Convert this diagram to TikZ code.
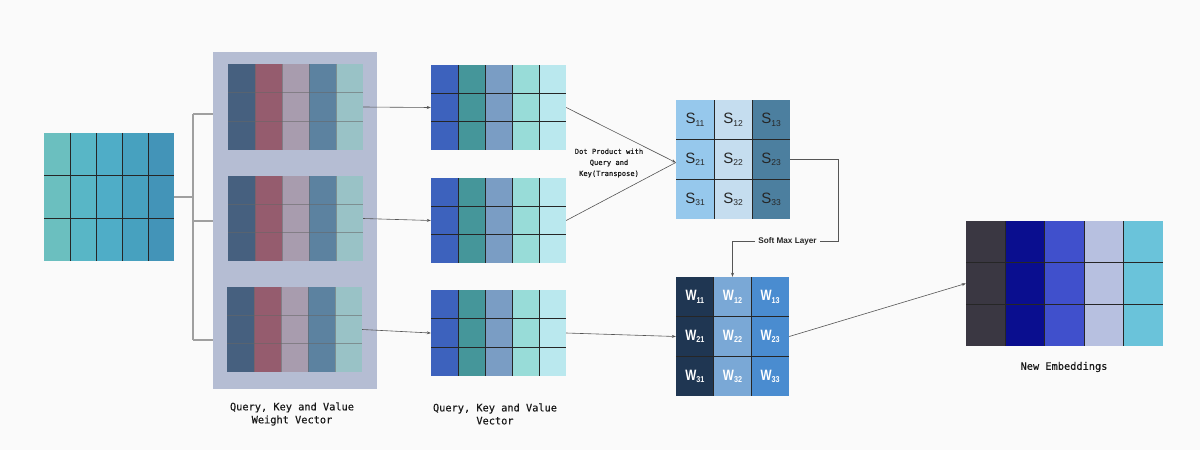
\documentclass[tikz,border=0pt]{standalone}
\usepackage{fontspec}
\usepackage{graphicx}
\setmainfont{Liberation Sans}
\newfontfamily\monof[FakeBold=0.35]{DejaVu Sans Mono}
\newfontfamily\sansf{Liberation Sans}
\usetikzlibrary{arrows.meta}
\definecolor{bg}{HTML}{FAFAFA}
\definecolor{inA}{HTML}{6BBFBF}\definecolor{inB}{HTML}{58B6C6}\definecolor{inC}{HTML}{4FADC7}\definecolor{inD}{HTML}{47A1BF}\definecolor{inE}{HTML}{4394B8}
\definecolor{wtA}{HTML}{46607F}\definecolor{wtB}{HTML}{955C6E}\definecolor{wtC}{HTML}{A89CAE}\definecolor{wtD}{HTML}{5C82A0}\definecolor{wtE}{HTML}{99C2C6}
\definecolor{panel}{HTML}{B5BDD3}
\definecolor{qA}{HTML}{3D62BD}\definecolor{qB}{HTML}{45969A}\definecolor{qC}{HTML}{7A9DC4}\definecolor{qD}{HTML}{98DCD8}\definecolor{qE}{HTML}{BAE8EE}
\definecolor{sA}{HTML}{96C8EC}\definecolor{sB}{HTML}{C5DDEF}\definecolor{sC}{HTML}{4C7F9F}
\definecolor{wA}{HTML}{1F3652}\definecolor{wB}{HTML}{7AA8D6}\definecolor{wC}{HTML}{4A8CD0}
\definecolor{eA}{HTML}{3A3742}\definecolor{eB}{HTML}{0A0E8F}\definecolor{eC}{HTML}{4050CC}\definecolor{eD}{HTML}{B7C0E0}\definecolor{eE}{HTML}{6AC3DA}
\definecolor{lineC}{HTML}{555555}
% grid: [line style]{name}{x0}{y0}{x1}{y1}{ncols}{nrows}{colours}
\newcommand\mgrid[9][gl]{%
  \node[inner sep=0pt,minimum width={(#5-#3)*1pt},minimum height={(#6-#4)*1pt}] (#2) at ({(#3+#5)/2},{(#4+#6)/2}) {};
  \foreach \cc [count=\ii from 0] in {#9} {
    \fill[\cc] ({#3+\ii*(#5-#3)/#7},#4) rectangle ({#3+(\ii+1)*(#5-#3)/#7},#6);
  }
  \foreach \rr in {1,...,\numexpr#8-1\relax} {
    \draw[#1] (#3,{#4+\rr*(#6-#4)/#8}) -- (#5,{#4+\rr*(#6-#4)/#8});
  }
  \foreach \kk in {1,...,\numexpr#7-1\relax} {
    \draw[#1] ({#3+\kk*(#5-#3)/#7},#4) -- ({#3+\kk*(#5-#3)/#7},#6);
  }
}
\newcommand\Slab[1]{{\sansf\fontsize{15}{15}\selectfont S\raisebox{-0.3ex}{\fontsize{8.5}{8.5}\selectfont #1}}}
\newcommand\Wlab[1]{{\sansf\bfseries\fontsize{15}{15}\selectfont\scalebox{0.78}[1]{W}\raisebox{-0.3ex}{\fontsize{8.5}{8.5}\selectfont\scalebox{0.85}[1]{#1}}}}
\tikzset{
  gl/.style={draw=black!85,line width=0.9pt},
  glw/.style={draw=black!60,draw opacity=0.55,line width=1pt},
  feed/.style={draw=gray!75,line width=1.1pt},
  conn/.style={draw=lineC,line width=0.6pt,-{Stealth[length=4pt,width=3pt]}},
  plain/.style={draw=lineC,line width=0.6pt},
  mono/.style={font=\monof\fontsize{10.3}{13}\selectfont,align=center,text=black!90},
  monos/.style={font=\monof\fontsize{7.1}{11}\selectfont,align=center,text=black!90},
}
\begin{document}
\begin{tikzpicture}[x=1pt,y=-1pt]
\useasboundingbox (0,0) rectangle (1200,450);
\fill[bg] (0,0) rectangle (1200,450);
% input
\mgrid{in}{44}{133}{174}{261}{5}{3}{inA,inB,inC,inD,inE}
% panel
\fill[panel] (213,52) rectangle (377,389);
\coordinate (b1) at (213,114);
\coordinate (b2) at (213,221);
\coordinate (b3) at (213,340);
\coordinate (j) at (193,197);
\mgrid[glw]{wt1}{228}{64}{363}{150}{5}{3}{wtA,wtB,wtC,wtD,wtE}
\mgrid[glw]{wt2}{228}{176}{363}{261}{5}{3}{wtA,wtB,wtC,wtD,wtE}
\mgrid[glw]{wt3}{227}{287}{362}{372}{5}{3}{wtA,wtB,wtC,wtD,wtE}
% qkv
\mgrid{q1}{431}{65}{566}{150}{5}{3}{qA,qB,qC,qD,qE}
\mgrid{q2}{431}{178}{566}{263}{5}{3}{qA,qB,qC,qD,qE}
\mgrid{q3}{431}{290}{566}{376}{5}{3}{qA,qB,qC,qD,qE}
% S
\mgrid{S}{676}{100}{790}{219}{3}{3}{sA,sB,sC}
% W
\mgrid{W}{676}{277}{789}{396}{3}{3}{wA,wB,wC}
% new embeddings
\mgrid{E}{966}{221}{1163}{346}{5}{3}{eA,eB,eC,eD,eE}
% S and W labels
\foreach \r in {1,2,3}{\foreach \c in {1,2,3}{
  \node[inner sep=0pt,text=black!85] (s\r\c) at ({676+(\c-0.5)*38},{100+(\r-0.5)*39.67}) {\Slab{\r\c}};
  \node[inner sep=0pt,text=white] (w\r\c) at ({676+(\c-0.5)*37.67},{277+(\r-0.5)*39.67}) {\Wlab{\r\c}};
}}
% feed lines
\draw[feed] (in.east) -- (j);
\draw[feed] (j |- b1) -- (j |- b3);
\draw[feed] (j |- b1) -- (b1);
\draw[feed] (j |- b2) -- (b2);
\draw[feed] (j |- b3) -- (b3);
% weight -> qkv
\draw[conn] (wt1.east) -- (q1.west);
\draw[conn] (wt2.east) -- (q2.west);
\draw[conn] (wt3.east) -- (q3.west);
% qkv -> S, W
\draw[conn] (q1.east) -- ([yshift=-3pt]S.west);
\draw[plain] (q2.east) -- ([yshift=-3pt]S.west);
\draw[conn] (q3.east) -- (W.west);
\node[monos] (dot) at (609,163) {Dot Product with\\Query and\\Key(Transpose)};
% softmax
\node[inner sep=3pt,font=\sansf\bfseries\fontsize{8.2}{10}\selectfont,text=black!85] (sm) at (787.5,241) {Soft Max Layer};
\coordinate (sr) at (838,241);
\draw[plain] (S.east) -| (sr) -- (sm.east);
\draw[conn] (sm.west) -| (W.north);
% W -> E
\draw[conn] (W.east) -- (E.west);
% labels
\node[mono] (l1) at (292,414) {Query, Key and Value\\Weight Vector};
\node[mono] (l2) at (495,414) {Query, Key and Value\\Vector};
\node[mono] (l3) at (1064,367) {New Embeddings};
\end{tikzpicture}
\end{document}
